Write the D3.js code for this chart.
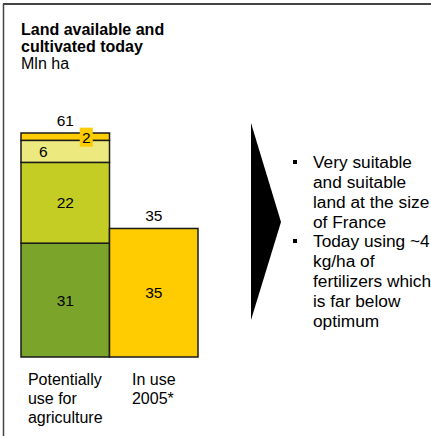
<!DOCTYPE html>
<html>
<head>
<meta charset="utf-8">
<script src="https://cdn.jsdelivr.net/npm/d3@7"></script>
<style>
  html, body { margin: 0; padding: 0; background: #fff; }
  svg { display: block; font-family: Arial, "Liberation Sans", sans-serif; }
</style>
</head>
<body>
<div class="wrapper"></div>
<script>
// chart values
var categories = ["Potentially use for agriculture", "In use 2005*"];
var categoryLines = [["Potentially", "use for", "agriculture"], ["In use", "2005*"]];
var potentialValues = [31, 22, 6, 2];
var inUseValues = [35];
var totals = [61, 35];
var titleLines = ["Land available and", "cultivated today"];
var unitLabel = "Mln ha";
var bullets = [
  ["Very suitable", "and suitable", "land at the size", "of France"],
  ["Today using ~4", "kg/ha of", "fertilizers which", "is far below", "optimum"]
];

var width = 431, height = 436;
var potentialColors = ["#7ba42a", "#c4cd24", "#ece97f", "#fecc00"];
var inUseColors = ["#fecc00"];

var svg = d3.select(".wrapper").append("svg")
  .attr("width", width)
  .attr("height", height);

// frame
svg.append("line")
  .attr("x1", 3).attr("x2", width).attr("y1", 4).attr("y2", 4)
  .attr("stroke", "#444").attr("stroke-width", 2);
svg.append("line")
  .attr("x1", 3.5).attr("x2", 3.5).attr("y1", 4).attr("y2", height)
  .attr("stroke", "#444").attr("stroke-width", 1.5);

// title
var title = svg.append("text")
  .attr("x", 21)
  .attr("font-size", 16)
  .attr("fill", "#000");
titleLines.forEach((t, i) => {
  title.append("tspan")
    .attr("x", 21).attr("y", 35 + i * 17)
    .attr("font-weight", "bold")
    .text(t);
});
svg.append("text")
  .attr("x", 21).attr("y", 69)
  .attr("font-size", 16)
  .text(unitLabel);

// scales
var x = d3.scaleBand()
  .domain(categories)
  .range([21, 198])
  .paddingInner(0)
  .paddingOuter(0);

var y = d3.scaleLinear()
  .domain([0, d3.max(totals)])
  .range([357, 133]);

function segmentsOf(values, colors, cat) {
  var ends = d3.cumsum(values);
  return values.map((v, i) => ({
    cat: cat,
    value: v,
    y0: ends[i] - v,
    y1: ends[i],
    color: colors[i],
    index: i
  }));
}

var segs = segmentsOf(potentialValues, potentialColors, categories[0])
  .concat(segmentsOf(inUseValues, inUseColors, categories[1]));

var barG = svg.append("g").classed("bars", true);

barG.selectAll(".seg")
  .data(segs)
  .enter()
  .append("rect")
  .attr("class", "seg")
  .attr("x", d => x(d.cat))
  .attr("width", x.bandwidth())
  .attr("y", d => y(d.y1))
  .attr("height", d => y(d.y0) - y(d.y1))
  .attr("fill", d => d.color)
  .attr("stroke", "#1a1a1a")
  .attr("stroke-width", 1.5);

// segment labels
var labelG = svg.append("g").attr("font-size", 15.5).attr("text-anchor", "middle");

segs.forEach(d => {
  var cx = x(d.cat) + x.bandwidth() / 2;
  var cy = (y(d.y0) + y(d.y1)) / 2;
  var h = y(d.y0) - y(d.y1);
  if (h > 15) {
    var dx = 0;
    if (h < 30) dx = -22; // small segment label sits left
    labelG.append("text")
      .attr("x", cx + dx)
      .attr("y", cy + 5.5)
      .text(d.value);
  } else {
    // tiny segment: label in a highlighted box
    var bx = cx + 21;
    labelG.append("rect")
      .attr("x", bx - 6.5)
      .attr("y", cy - 9)
      .attr("width", 13)
      .attr("height", 19)
      .attr("fill", d.color);
    labelG.append("text")
      .attr("x", bx)
      .attr("y", cy + 6)
      .text(d.value);
  }
});

// totals
labelG.selectAll(".total")
  .data(totals)
  .enter()
  .append("text")
  .attr("class", "total")
  .attr("x", (d, i) => x(categories[i]) + x.bandwidth() / 2)
  .attr("y", d => y(d) - 7)
  .text(d => d);

// category labels
categories.forEach((c, i) => {
  var t = svg.append("text").attr("font-size", 16).attr("fill", "#000");
  categoryLines[i].forEach((line, j) => {
    t.append("tspan").attr("y", 385 + j * 19).text(line);
  });
  var w = d3.max(t.selectAll("tspan").nodes(), n => n.getComputedTextLength());
  var left = x(c) + (x.bandwidth() - w) / 2;
  t.selectAll("tspan").attr("x", left);
});

// arrow
svg.append("path")
  .attr("d", d3.line()([[251, 123], [281, 222], [251, 320]]) + "Z")
  .attr("fill", "#000");

// bullets
var lineH = 20;
var by = 168;
bullets.forEach(lines => {
  svg.append("rect")
    .attr("x", 293).attr("y", by - 8)
    .attr("width", 4).attr("height", 4)
    .attr("fill", "#000");
  var t = svg.append("text").attr("font-size", 17.3).attr("fill", "#000");
  lines.forEach((line, j) => {
    t.append("tspan").attr("x", 313).attr("y", by + j * lineH).text(line);
  });
  by += lines.length * lineH - 1;
});
</script>
</body>
</html>
